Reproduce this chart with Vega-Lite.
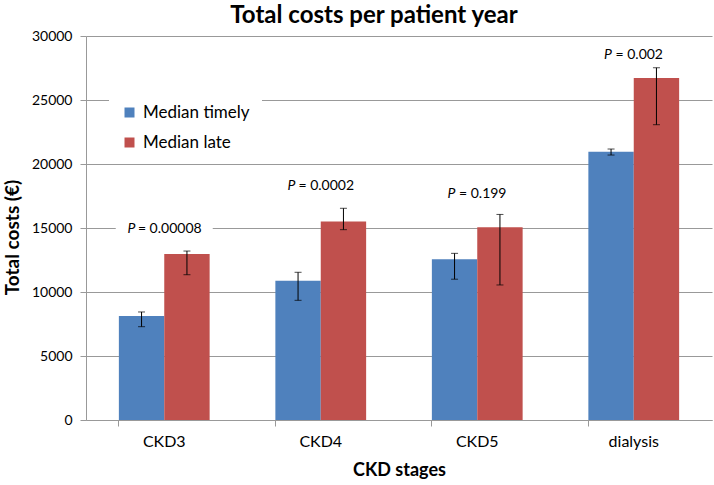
{
  "$schema": "https://vega.github.io/schema/vega-lite/v6.json",
  "width": 626,
  "height": 384,
  "autosize": {"type": "none"},
  "padding": {"left": 86, "top": 36, "right": 2, "bottom": 65},
  "background": "white",
  "config": {
    "font": "Lato",
    "view": {"stroke": null},
    "text": {"font": "Lato", "color": "black"}
  },
  "title": {
    "text": "Total costs per patient year",
    "fontSize": 24,
    "font": "Lato",
    "fontWeight": "bold",
    "color": "black",
    "offset": 1,
    "dx": -25,
    "anchor": "middle"
  },
  "datasets": {
    "costs": [
      {"stage": "CKD3", "series": "Median timely", "median": 8130, "low": 7290, "high": 8440},
      {"stage": "CKD3", "series": "Median late", "median": 12970, "low": 11350, "high": 13200},
      {"stage": "CKD4", "series": "Median timely", "median": 10880, "low": 9350, "high": 11540},
      {"stage": "CKD4", "series": "Median late", "median": 15500, "low": 14870, "high": 16540},
      {"stage": "CKD5", "series": "Median timely", "median": 12550, "low": 11000, "high": 13020},
      {"stage": "CKD5", "series": "Median late", "median": 15050, "low": 10550, "high": 16060},
      {"stage": "dialysis", "series": "Median timely", "median": 20960, "low": 20700, "high": 21170},
      {"stage": "dialysis", "series": "Median late", "median": 26720, "low": 23070, "high": 27520}
    ],
    "pvals": [
      {"stage": "CKD3", "rest": "= 0.00008", "p_y": 14950},
      {"stage": "CKD4", "rest": "= 0.0002", "p_y": 18250},
      {"stage": "CKD5", "rest": "= 0.199", "p_y": 17650},
      {"stage": "dialysis", "rest": "= 0.002", "p_y": 28550}
    ]
  },
  "layer": [
    {
      "data": {"name": "pvals"},
      "mark": {"type": "tick", "orient": "horizontal", "color": "white", "size": 97, "thickness": 17, "opacity": 1},
      "encoding": {
        "x": {
          "field": "stage", "type": "nominal", "sort": ["CKD3", "CKD4", "CKD5", "dialysis"],
          "scale": {"paddingInner": 0.42, "paddingOuter": 0.21},
          "axis": {"orient": "bottom", "bandPosition": 0, "labels": false, "ticks": true, "tickSize": 6, "tickColor": "#999999", "domain": false, "grid": false, "title": null}
        },
        "y": {"field": "p_y", "type": "quantitative", "title": "Total costs (€)"}
      }
    },
    {
      "data": {"name": "costs"},
      "mark": {"type": "bar"},
      "encoding": {
        "x": {
          "field": "stage", "type": "nominal", "sort": ["CKD3", "CKD4", "CKD5", "dialysis"],
          "scale": {"paddingInner": 0.42, "paddingOuter": 0.21},
          "axis": {
            "orient": "bottom", "ticks": false, "domainColor": "#999999", "labelAngle": 0,
            "labelFontSize": 16, "labelPadding": 13, "labelColor": "black",
            "title": "CKD stages", "titleFontSize": 18, "titleFontWeight": "bold", "titleColor": "black",
            "titleY": 50, "titleBaseline": "middle"
          }
        },
        "xOffset": {"field": "series", "type": "nominal", "sort": ["Median timely", "Median late"], "scale": {"paddingInner": 0, "paddingOuter": 0}},
        "y": {
          "field": "median", "type": "quantitative", "title": "Total costs (€)",
          "scale": {"domain": [0, 30000]},
          "axis": {
            "values": [0, 5000, 10000, 15000, 20000, 25000, 30000], "format": "d",
            "grid": true, "gridColor": "#999999", "domainColor": "#999999", "tickColor": "#999999", "tickSize": 6,
            "labelFontSize": 14, "labelPadding": 8, "labelColor": "black",
            "titleFontSize": 19, "titleFontWeight": "bold", "titleColor": "black",
            "titleX": -74, "titleY": 201, "titleAngle": -90, "titleAlign": "center", "titleBaseline": "middle"
          }
        },
        "color": {
          "field": "series", "type": "nominal",
          "scale": {"domain": ["Median timely", "Median late"], "range": ["#4F81BD", "#C0504D"]},
          "legend": {
            "orient": "none", "legendX": 23, "legendY": 56, "fillColor": "white", "padding": 12,
            "symbolType": "square", "symbolSize": 100, "symbolStrokeWidth": 0,
            "labelFontSize": 17, "labelColor": "black", "labelOffset": 5, "rowPadding": 12, "title": null
          }
        }
      }
    },
    {
      "data": {"name": "costs"},
      "mark": {"type": "rule", "color": "black", "strokeWidth": 1},
      "encoding": {
        "x": {"field": "stage", "type": "nominal", "sort": ["CKD3", "CKD4", "CKD5", "dialysis"], "axis": null},
        "xOffset": {"field": "series", "type": "nominal", "sort": ["Median timely", "Median late"]},
        "y": {"field": "low", "type": "quantitative", "title": "Total costs (€)"},
        "y2": {"field": "high"}
      }
    },
    {
      "data": {"name": "costs"},
      "mark": {"type": "tick", "orient": "horizontal", "color": "black", "size": 7, "thickness": 1},
      "encoding": {
        "x": {"field": "stage", "type": "nominal", "sort": ["CKD3", "CKD4", "CKD5", "dialysis"], "axis": null},
        "xOffset": {"field": "series", "type": "nominal", "sort": ["Median timely", "Median late"]},
        "y": {"field": "low", "type": "quantitative", "title": "Total costs (€)"}
      }
    },
    {
      "data": {"name": "costs"},
      "mark": {"type": "tick", "orient": "horizontal", "color": "black", "size": 7, "thickness": 1},
      "encoding": {
        "x": {"field": "stage", "type": "nominal", "sort": ["CKD3", "CKD4", "CKD5", "dialysis"], "axis": null},
        "xOffset": {"field": "series", "type": "nominal", "sort": ["Median timely", "Median late"]},
        "y": {"field": "high", "type": "quantitative", "title": "Total costs (€)"}
      }
    },
    {
      "data": {"name": "pvals"},
      "mark": {"type": "text", "align": "center", "baseline": "middle", "dx": 5.5, "fontSize": 14, "color": "black"},
      "encoding": {
        "x": {"field": "stage", "type": "nominal", "sort": ["CKD3", "CKD4", "CKD5", "dialysis"], "axis": null},
        "y": {"field": "p_y", "type": "quantitative", "title": "Total costs (€)"},
        "text": {"field": "rest"}
      }
    },
    {
      "data": {"name": "pvals"},
      "mark": {"type": "text", "align": "right", "baseline": "middle", "fontSize": 14, "fontStyle": "italic", "color": "black", "dx": {"expr": "2.5 - 3.5 * length(datum.rest)"}},
      "encoding": {
        "x": {"field": "stage", "type": "nominal", "sort": ["CKD3", "CKD4", "CKD5", "dialysis"], "axis": null},
        "y": {"field": "p_y", "type": "quantitative", "title": "Total costs (€)"},
        "text": {"value": "P"}
      }
    }
  ],
  "resolve": {"axis": {"x": "independent"}}
}
